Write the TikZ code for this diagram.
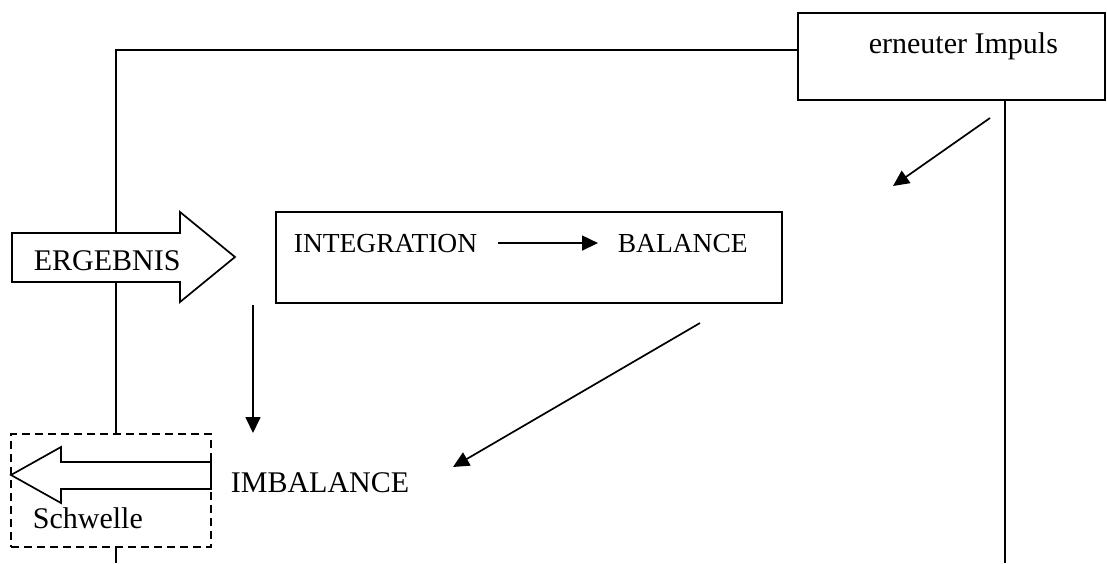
\documentclass[tikz,border=0pt]{standalone}
\usepackage{fontspec}
\setmainfont{Liberation Serif}
\usetikzlibrary{arrows.meta,calc}
\begin{document}
\begin{tikzpicture}[x=1pt,y=-1pt,
  line width=1.7pt,
  lbl/.style={inner sep=0pt, anchor=base west, font=\fontsize{30}{36}\selectfont},
  lblsm/.style={lbl, font=\fontsize{27.5}{33}\selectfont},
  arr/.style={-{Triangle[length=16pt,width=15pt]}},
  frame/.style={draw, inner sep=0pt},
  dashframe/.style={frame, dash pattern=on 8pt off 5pt},
  bigarrow/.style={draw, fill=white, line join=miter},
]
\useasboundingbox (0,0) rectangle (1107,563);

% boxes
\node[frame, minimum width=307pt, minimum height=87pt] (imp) at (951.5,56.5) {};
\node[lbl] (imptxt) at (868,53) {erneuter Impuls};
\node[frame, minimum width=506pt, minimum height=91pt] (ib) at (529,257.5) {};
\node[dashframe, minimum width=200pt, minimum height=113pt] (sw) at (111,490.5) {};

% feedback lines
\coordinate (topL) at (116,50);
\coordinate (botL) at (116,563);
\coordinate (botR) at (1005,563);
\draw (imp.west |- topL) -- (topL) -- (topL |- sw.north);
\draw (sw.south -| botL) -- (botL);
\draw (imp.south -| botR) -- (botR);

% ERGEBNIS block arrow
\draw[bigarrow] (12,233) -- (180,233) -- (180,212) -- (235,257) -- (180,302)
  -- (180,282) -- (12,282) -- cycle;
\node[lbl] (erg) at (33,270) {ERGEBNIS};

% Schwelle block arrow
\draw[bigarrow] (211,462) -- (61,462) -- (61,447) -- (11,475) -- (61,503)
  -- (61,489) -- (211,489) -- cycle;
\node[lbl] (schw) at (32,528) {Schwelle};

% labels
\node[lblsm] (integ) at (293,252) {INTEGRATION};
\node[lblsm] (bal) at (617,252) {BALANCE};
\node[lbl] (imbal) at (230,492) {IMBALANCE};

\draw[arr, shorten <=20pt, shorten >=19pt] (integ.east) -- (bal.west |- integ.east);

% free arrows
\coordinate (a1s) at (990,118);
\coordinate (a1e) at (893,186);
\coordinate (a2s) at (253,305);
\coordinate (a2e) at (253,433);
\coordinate (a3s) at (700,323);
\coordinate (a3e) at (453,467);
\draw[arr] (a1s) -- (a1e);
\draw[arr] (a2s) -- (a2e);
\draw[arr] (a3s) -- (a3e);
\end{tikzpicture}
\end{document}
